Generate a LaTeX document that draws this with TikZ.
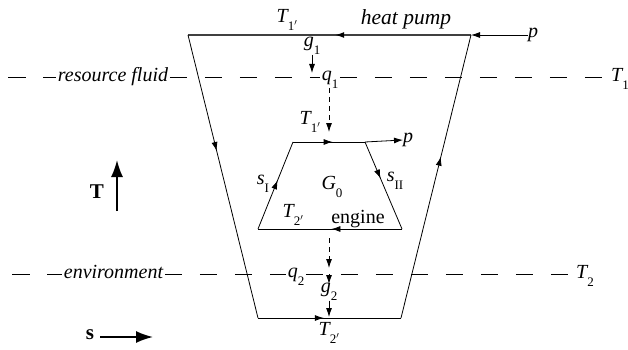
\documentclass[tikz,border=0pt]{standalone}
\usepackage{fontspec}
\setmainfont{Liberation Serif}
\usetikzlibrary{arrows.meta,decorations.markings}
\newcommand\sbs[1]{\raisebox{-0.38em}{\upshape\fontsize{13}{13}\selectfont #1}}
\begin{document}
\begin{tikzpicture}[x=1pt,y=-1pt,
  lbl/.style={inner sep=0pt,font=\fontsize{20}{22}\selectfont},
  ital/.style={inner sep=0pt,font=\fontsize{20}{22}\selectfont\itshape},
  tip/.style={line width=0.8pt,-{Latex[length=9pt,width=6pt]}},
  edge/.style={line width=0.8pt},
  topedge/.style={line width=1.3pt,draw=black!75},
  midarrow/.style={postaction={decorate},decoration={markings,mark=at position #1 with {\arrow[black]{Latex[length=9pt,width=6pt]}}}},
  dashline/.style={line width=0.8pt,dash pattern=on 17.5pt off 17.5pt},
  vdash/.style={line width=0.8pt,dash pattern=on 5pt off 4pt,-{Latex[length=9pt,width=6pt]}},
  bigarrow/.style={line width=1.8pt,-{Latex[length=17pt,width=12pt]}},
]
\useasboundingbox (0,0) rectangle (628,350);
% outer heat pump cycle
\coordinate (A) at (188,35);
\coordinate (B) at (471,35);
\coordinate (C) at (401,318);
\coordinate (D) at (258,318);
\draw[topedge,midarrow=0.48] (B) -- (A);
\draw[edge,midarrow=0.41] (A) -- (D);
\draw[edge,midarrow=0.46] (D) -- (C);
\draw[edge,midarrow=0.57] (C) -- (B);
% inner engine cycle
\coordinate (E) at (293,142);
\coordinate (F) at (365,142);
\coordinate (G) at (402,229);
\coordinate (H) at (258,229);
\draw[edge,midarrow=0.55] (E) -- (F);
\draw[edge,midarrow=0.42] (F) -- (G);
\draw[edge,midarrow=0.49] (G) -- (H);
\draw[edge,midarrow=0.56] (H) -- (E);
% p arrows
\node[ital,anchor=west] (pe) at (403,140) {p};
\draw[tip] (F) -- (pe.west);
\node[ital,anchor=west] (pt) at (528,35) {p};
\draw[tip] (pt.west) -- (B);
% top labels
\node[ital] (T1top) at (287,20) {T\sbs{1$'$}};
\node[ital,anchor=base] (hp) at (406,25) {\fontsize{21.5}{22}\selectfont heat pump};
% resource fluid line
\coordinate (L1) at (8,77);
\node[ital,anchor=base,inner xsep=1.5pt] (rf) at (113,82) {resource fluid};
\node[ital,inner xsep=1.5pt] (q1) at (330,80) {q\sbs{1}};
\node[ital,anchor=west] (T1) at (611,79) {T\sbs{1}};
\draw[dashline] (L1) -- (L1 -| rf.west);
\draw[dashline] (L1 -| rf.east) -- (L1 -| q1.west);
\draw[dashline] (L1 -| q1.east) -- (L1 -| T1.west);
% environment line
\coordinate (L2) at (12,274);
\node[ital,anchor=base,inner xsep=1.5pt] (env) at (113.5,278) {environment};
\node[ital,inner xsep=1.5pt] (q2) at (296,277) {q\sbs{2}};
\node[ital,anchor=west] (T2) at (576,276) {T\sbs{2}};
\draw[dashline] (L2) -- (L2 -| env.west);
\draw[dashline] (L2 -| env.east) -- (L2 -| q2.west);
\draw[dashline] (L2 -| q2.east) -- (L2 -| T2.west);
% heat flows
\node[ital] (g1) at (312,46) {g\sbs{1}};
\coordinate (g1t) at (312,73);
\draw[tip] (g1.south) -- (g1t);
\coordinate (q1s) at (329,88);
\coordinate (q1t) at (329,132);
\draw[vdash] (q1s) -- (q1t);
\coordinate (ebs) at (329,238);
\coordinate (ebt) at (329,268);
\draw[vdash] (ebs) -- (ebt);
\coordinate (q2s) at (329,274);
\coordinate (q2t) at (329,284);
\draw[tip] (q2s) -- (q2t);
\node[ital] (g2) at (329,292) {g\sbs{2}};
\coordinate (g2t) at (329,317);
\draw[tip] (g2.south) -- (g2t);
\node[ital] (T2bot) at (329,333) {T\sbs{2$'$}};
% engine labels
\node[ital] (T1in) at (310,122) {T\sbs{1$'$}};
\node[ital] (G0) at (332,187) {G\sbs{0}};
\node[ital] (sI) at (263,184) {s\sbs{I}};
\node[ital] (sII) at (395,181) {s\sbs{II}};
\node[ital] (T2in) at (293,215) {T\sbs{2$'$}};
\node[lbl,anchor=base] (eng) at (358,223) {engine};
% axes
\node[lbl,font=\fontsize{21}{22}\selectfont\bfseries] (Tax) at (97,192) {T};
\coordinate (Ta0) at (117,211);
\coordinate (Ta1) at (117,160);
\draw[bigarrow] (Ta0) -- (Ta1);
\node[lbl,font=\fontsize{21}{22}\selectfont\bfseries] (sax) at (90,335) {s};
\coordinate (sa0) at (100,337);
\coordinate (sa1) at (153,337);
\draw[bigarrow] (sa0) -- (sa1);
\end{tikzpicture}
\end{document}
